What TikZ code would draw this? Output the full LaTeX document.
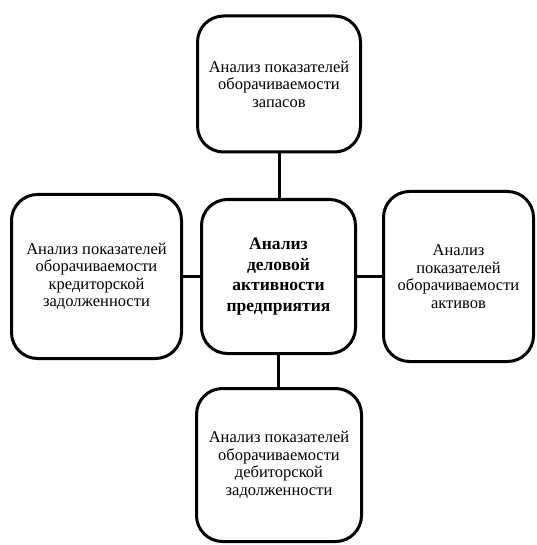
\documentclass[tikz,border=0pt]{standalone}
\usepackage{fontspec}
\setmainfont{Liberation Serif}
\begin{document}
\begin{tikzpicture}[x=1pt,y=-1pt,
  blk/.style={draw=black, line width=3pt, rounded corners=26pt, align=center,
    inner sep=0pt, font=\fontsize{16.5}{17.5}\selectfont},
  link/.style={draw=black, line width=3pt}]
\useasboundingbox (0,0) rectangle (536,545);
\node[blk, minimum width=163pt, minimum height=136pt] (top) at (279,84)
  {Анализ показателей\\оборачиваемости\\запасов};
\node[blk, minimum width=170pt, minimum height=164pt] (left) at (96.5,276.5)
  {Анализ показателей\\оборачиваемости\\кредиторской\\задолженности};
\node[blk, minimum width=154pt, minimum height=154pt,
  font=\fontsize{17.5}{20.7}\selectfont\bfseries] (mid) at (278.5,276.5)
  {Анализ\\деловой\\активности\\предприятия};
\node[blk, minimum width=150pt, minimum height=170pt] (right) at (458.5,276.5)
  {Анализ\\показателей\\оборачиваемости\\активов};
\node[blk, minimum width=165pt, minimum height=153pt] (bot) at (279,465)
  {Анализ показателей\\оборачиваемости\\дебиторской\\задолженности};
\draw[link] (top.south) -- (top.south |- mid.north);
\draw[link] (mid.south) -- (mid.south |- bot.north);
\draw[link] (left.east) -- (left.east -| mid.west);
\draw[link] (mid.east) -- (mid.east -| right.west);
\end{tikzpicture}
\end{document}
